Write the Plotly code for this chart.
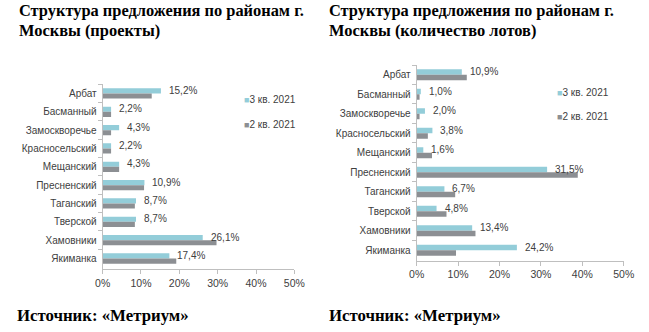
import plotly.graph_objects as go

# Districts of Moscow (shared category axis for both panels)
districts = ["Арбат", "Басманный", "Замоскворечье", "Красносельский", "Мещанский",
             "Пресненский", "Таганский", "Тверской", "Хамовники", "Якиманка"]

# Share of projects, %
projects_q3 = [15.2, 2.2, 4.3, 2.2, 4.3, 10.9, 8.7, 8.7, 26.1, 17.4]
projects_q2 = [12.8, 2.2, 2.2, 2.2, 4.3, 10.8, 8.4, 8.4, 29.7, 19.2]

# Share of lots, %
lots_q3 = [10.9, 1.0, 2.0, 3.8, 1.6, 31.5, 6.7, 4.8, 13.4, 24.2]
lots_q2 = [12.1, 0.7, 0.7, 2.7, 3.7, 38.9, 9.3, 7.2, 14.2, 9.5]

series_names = ["3 кв. 2021", "2 кв. 2021"]
x_ticks = [0, 10, 20, 30, 40, 50]

titles = [["Структура предложения по районам г.", "Москвы (проекты)"],
          ["Структура предложения по районам г.", "Москвы (количество лотов)"]]
source_text = "Источник: «Метриум»"

C_Q3 = "#93CDD9"
C_Q2 = "#8C8F93"
AXIS = "#BFBFBF"
TXT = "#404040"
SANS = "Liberation Sans, Arial, sans-serif"
SERIF = "Liberation Serif, Times New Roman, serif"
FS = 10

W, H = 649, 332


def px_x(v):
    return v / W


def px_y(v):
    return 1 - v / H


fig = go.Figure()

panels = [
    dict(q3=projects_q3, q2=projects_q2, xa="x", ya="y",
         xdom=[px_x(97.5), px_x(295)], ydom=[px_y(269), px_y(84.3)]),
    dict(q3=lots_q3, q2=lots_q2, xa="x2", ya="y2",
         xdom=[px_x(421), px_x(634.3)], ydom=[px_y(260.7), px_y(65)]),
]

for p in panels:
    for vals, name, col in [(p["q3"], series_names[0], C_Q3),
                            (p["q2"], series_names[1], C_Q2)]:
        fig.add_trace(go.Bar(
            x=vals, y=districts, orientation="h", name=name,
            marker=dict(color=col, line=dict(width=0)),
            xaxis=p["xa"], yaxis=p["ya"], showlegend=False,
        ))
    # data labels for the 3rd-quarter series
    for d, v in zip(districts, p["q3"]):
        fig.add_annotation(
            x=v, y=d, xref=p["xa"], yref=p["ya"],
            text=f"{v:.1f}%".replace(".", ","), showarrow=False,
            xanchor="left", yanchor="middle", xshift=6, yshift=3,
            font=dict(family=SANS, size=FS, color=TXT),
        )

axis_common_x = dict(
    range=[0, 50], tickvals=x_ticks, ticktext=[f"{t}%" for t in x_ticks],
    showline=True, linecolor=AXIS, linewidth=1, ticks="outside", ticklen=4,
    tickcolor=AXIS, showgrid=False, zeroline=False, fixedrange=True,
    tickfont=dict(family=SANS, size=FS + 0.5, color=TXT),
)
axis_common_y = dict(
    categoryorder="array", categoryarray=districts, autorange="reversed",
    showline=True, linecolor=AXIS, linewidth=1, ticks="outside", ticklen=4,
    tickcolor=AXIS, tickson="boundaries", showgrid=False, zeroline=False,
    tickfont=dict(family=SANS, size=FS, color=TXT), ticklabelstandoff=3,
)

fig.update_layout(
    width=W, height=H, autosize=False, margin=dict(l=0, r=0, t=0, b=0),
    paper_bgcolor="white", plot_bgcolor="white",
    barmode="group", bargap=0.44, bargroupgap=0,
    xaxis=dict(domain=panels[0]["xdom"], anchor="y", **axis_common_x),
    yaxis=dict(domain=panels[0]["ydom"], anchor="x", **axis_common_y),
    xaxis2=dict(domain=panels[1]["xdom"], anchor="y2", **axis_common_x),
    yaxis2=dict(domain=panels[1]["ydom"], anchor="x2", **axis_common_y),
)

# titles (two lines each) and sources
for x0, lines in zip([10, 330], titles):
    for line, ly in zip(lines, [10.5, 30]):
        fig.add_annotation(
            x=px_x(x0), y=px_y(ly), xref="paper", yref="paper",
            text=f"<b>{line}</b>", showarrow=False,
            xanchor="left", yanchor="middle", borderpad=0,
            font=dict(family=SERIF, size=16.4, color="black"),
        )
for x0 in [8, 330]:
    fig.add_annotation(
        x=px_x(x0), y=px_y(315), xref="paper", yref="paper",
        text=f"<b>{source_text}</b>", showarrow=False,
        xanchor="left", yanchor="middle", borderpad=0,
        font=dict(family=SERIF, size=16.8, color="black"),
    )

# legends: coloured square + series name
legend_pos = [(242, [100, 124]), (565, [93, 117])]
for lx, ys in legend_pos:
    for name, col, ly in zip(series_names, [C_Q3, C_Q2], ys):
        fig.add_annotation(
            x=px_x(lx), y=px_y(ly), xref="paper", yref="paper",
            text=f"<span style='color:{col};font-size:9px'>■</span>{name}",
            showarrow=False, xanchor="left", yanchor="middle", borderpad=0,
            font=dict(family=SANS, size=FS, color=TXT),
        )

# fixed-size figure placed at the window origin
fig.write_html(
    "out.html",
    config={"responsive": False},
    post_script="document.body.style.margin='0';",
)
